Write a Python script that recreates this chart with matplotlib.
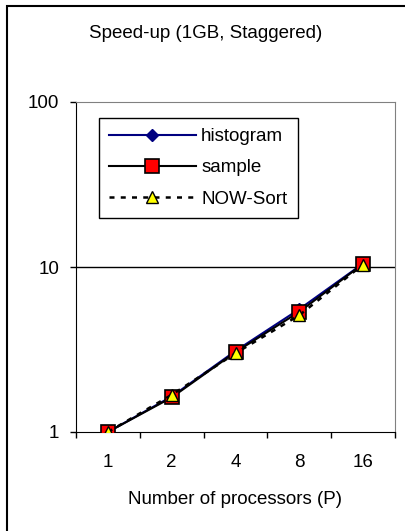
import matplotlib
matplotlib.use("Agg")
import matplotlib.pyplot as plt
from matplotlib.patches import Rectangle
from matplotlib.ticker import FixedLocator, NullFormatter, FixedFormatter

plt.rcParams['font.family'] = ['Liberation Sans', 'DejaVu Sans']

procs = ['1', '2', '4', '8', '16']
histogram = [1.0, 1.64, 3.1, 5.55, 10.5]
sample = [1.0, 1.62, 3.05, 5.35, 10.45]
now_sort = [1.0, 1.68, 3.0, 5.1, 10.35]
yticks = [1, 10, 100]

fig = plt.figure(figsize=(4.05, 5.31), dpi=100)
ax = fig.add_axes([76/405, 1 - 432/531, 319/405, 330/531])

x = list(range(len(procs)))
ax.plot(x, histogram, color='#000080', lw=1.5, marker='D', ms=6,
        mfc='#000080', mec='#000080', label='histogram', zorder=3)
ax.plot(x, sample, color='black', lw=1.5, marker='s', ms=9.5,
        mfc='#ff0000', mec='black', mew=1.2, label='sample', zorder=4)
ax.plot(x, now_sort, color='black', lw=1.8, ls=(0, (2, 2.5)), marker='^', ms=8.5,
        mfc='#ffff00', mec='black', mew=1.0, label='NOW-Sort', zorder=5)

ax.set_yscale('log')
ax.set_ylim(1, 100)
ax.set_xlim(-0.5, len(procs) - 0.5)
ax.yaxis.set_major_locator(FixedLocator(yticks))
ax.yaxis.set_major_formatter(FixedFormatter([str(v) for v in yticks]))
ax.yaxis.set_minor_locator(FixedLocator([]))
ax.axhline(10, color='black', lw=1, zorder=1)

ax.xaxis.set_major_locator(FixedLocator([i - 0.5 for i in range(len(procs) + 1)]))
ax.xaxis.set_major_formatter(NullFormatter())
ax.xaxis.set_minor_locator(FixedLocator(x))
ax.xaxis.set_minor_formatter(FixedFormatter(procs))
ax.tick_params(axis='x', which='minor', length=0, labelsize=13.5, pad=16)
ax.tick_params(axis='x', which='major', length=4, width=1, direction='out')
ax.tick_params(axis='y', length=4, width=1, direction='out', labelsize=13.5, pad=8)

for s in ['top', 'right']:
    ax.spines[s].set_color('#808080')
for s in ['left', 'bottom']:
    ax.spines[s].set_color('black')

ax.set_xlabel('Number of processors (P)', fontsize=13.5, labelpad=14)
fig.text(206/405, 1 - 33/531, 'Speed-up (1GB, Staggered)', ha='center', va='center', fontsize=13.5)

leg = ax.legend(loc='upper left', bbox_to_anchor=(0.072, 0.952), fontsize=13.5,
                handlelength=4.6, handletextpad=0.3, labelspacing=0.75,
                borderpad=0.55, borderaxespad=0, fancybox=False, framealpha=1,
                edgecolor='black')
leg.get_frame().set_linewidth(1)

fig.patches.append(Rectangle((7/405, -0.05), 1.1, 1 - 6/531 + 0.05, transform=fig.transFigure,
                             fill=False, edgecolor='black', lw=1.5))

fig.savefig('out.png', dpi=100)
